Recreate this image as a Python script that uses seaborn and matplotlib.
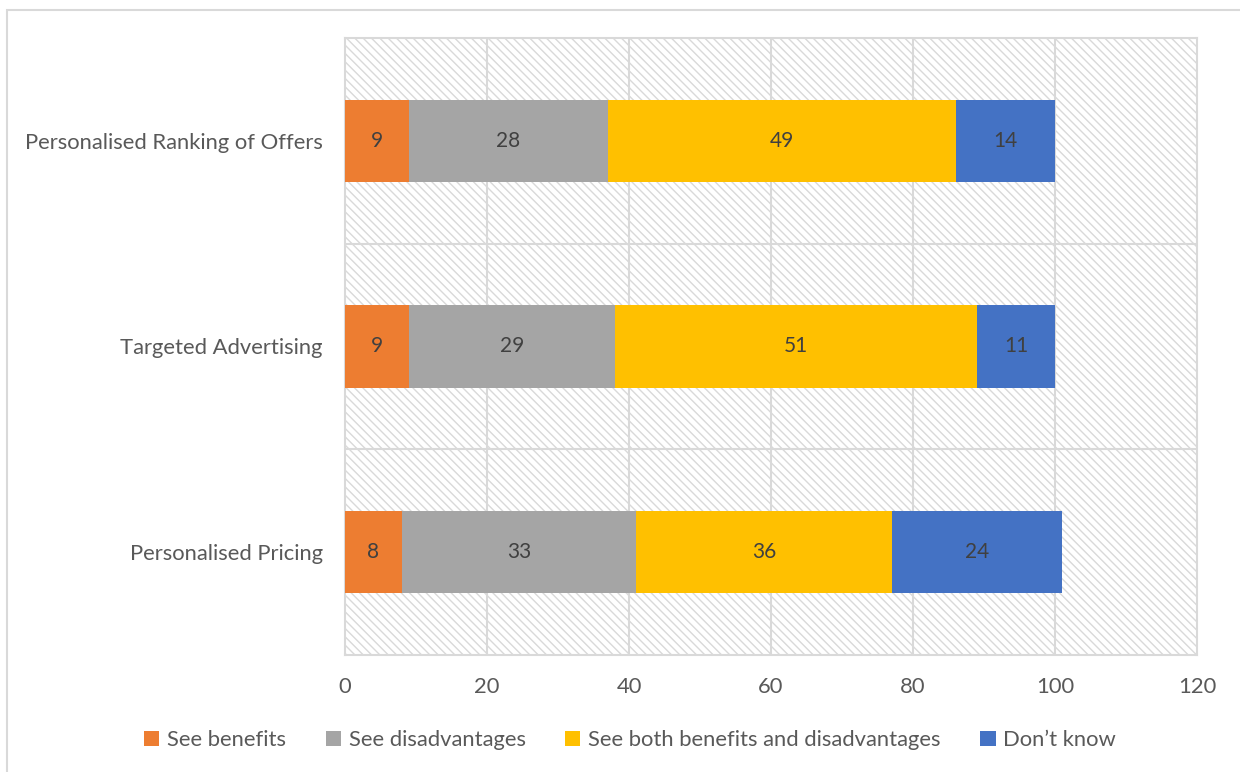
import matplotlib
matplotlib.use("Agg")
import matplotlib.pyplot as plt
from matplotlib.patches import Rectangle, Patch
import seaborn as sns
import numpy as np
import pandas as pd

categories = ["Personalised Ranking of Offers", "Targeted Advertising", "Personalised Pricing"]
series_names = ["See benefits", "See disadvantages",
                "See both benefits and disadvantages", "Don\u2019t know"]
see_benefits = [9, 9, 8]
see_disadvantages = [28, 29, 33]
see_both = [49, 51, 36]
dont_know = [14, 11, 24]
x_ticks = [0, 20, 40, 60, 80, 100, 120]

colors = ["#ED7D31", "#A5A5A5", "#FFC000", "#4472C4"]
grid_col = "#D9D9D9"
text_col = "#595959"

sns.set_theme(style="white")
plt.rcParams["font.family"] = ["Lato", "DejaVu Sans"]
plt.rcParams["hatch.color"] = "#D9D9D9"
plt.rcParams["hatch.linewidth"] = 1.0

values = np.array([see_benefits, see_disadvantages, see_both, dont_know], dtype=float)
cum = np.cumsum(values, axis=0)

fig = plt.figure(figsize=(12.4, 7.72), dpi=100)
ax = fig.add_axes([345 / 1240, 1 - 655 / 772, (1197 - 345) / 1240, (655 - 38) / 772])

# hatched plot-area background
ax.add_patch(Rectangle((0, 0), 1, 1, transform=ax.transAxes, facecolor="white",
                       edgecolor="#D9D9D9", linewidth=0, hatch="\\\\\\\\", zorder=0))

# stacked bars: draw cumulative totals from the outermost segment inward
for i in range(len(series_names) - 1, -1, -1):
    df = pd.DataFrame({"category": categories, "total": cum[i]})
    sns.barplot(data=df, x="total", y="category", orient="h", color=colors[i],
                saturation=1, width=0.4, ax=ax, zorder=3, linewidth=0, errorbar=None)

# value labels at segment centres
for i in range(len(series_names)):
    for j in range(len(categories)):
        start = cum[i, j] - values[i, j]
        ax.text(start + values[i, j] / 2, j, f"{int(values[i, j])}", ha="center",
                va="center", fontsize=15, color="#404040", zorder=4)

ax.set_xlim(0, 120)
ax.set_ylim(2.5, -0.5)
ax.set_xticks(x_ticks)
ax.set_xticklabels([str(t) for t in x_ticks])
ax.set_xlabel("")
ax.set_ylabel("")

# gridlines: vertical at ticks, horizontal between categories
for t in x_ticks[1:-1]:
    ax.axvline(t, color=grid_col, linewidth=1.5, zorder=1)
for b in [0.5, 1.5]:
    ax.axhline(b, color=grid_col, linewidth=1.5, zorder=1)

for s in ax.spines.values():
    s.set_visible(True)
    s.set_color(grid_col)
    s.set_linewidth(1.5)

ax.tick_params(axis="both", length=0, labelsize=15.8, colors=text_col)
ax.tick_params(axis="x", pad=16)
ax.tick_params(axis="y", pad=16)

handles = [Patch(facecolor=c, edgecolor="none") for c in colors]
fig.legend(handles, series_names, loc="center", bbox_to_anchor=(630 / 1240, 1 - 740 / 772),
           ncol=4, frameon=False, fontsize=15.8, handlelength=0.7, handleheight=0.7,
           handletextpad=0.35, columnspacing=1.8, labelcolor=text_col)

# figure border
fig.add_artist(Rectangle((7 / 1240, -0.05), 1.1, 1 - 10 / 772 + 0.05, transform=fig.transFigure,
                         facecolor="none", edgecolor="#D9D9D9", linewidth=1.5))

fig.savefig("out.png", dpi=100)
